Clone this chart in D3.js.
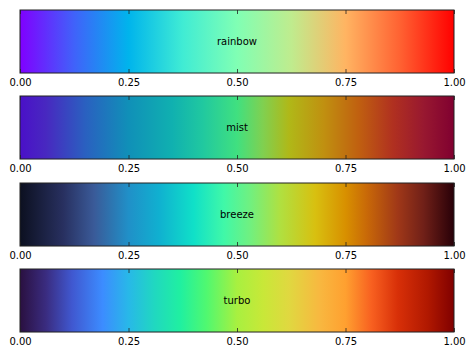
<!DOCTYPE html>
<html>
<head>
<meta charset="utf-8">
<script src="https://cdn.jsdelivr.net/npm/d3@7"></script>
<style>
  body { margin: 0; background: #fff; }
  text { font-family: "DejaVu Sans", sans-serif; }
</style>
</head>
<body>
<svg width="474" height="355"></svg>
<script>
// colormap names, top to bottom
var cmap_names = ["rainbow", "mist", "breeze", "turbo"];

// colour stops: [offset, colour]
var rainbow_stops = [[0, "#8000ff"], [0.125, "#4062fa"], [0.25, "#00b4ec"], [0.375, "#40ecd4"],
  [0.5, "#80ffb4"], [0.625, "#bfec8e"], [0.75, "#ffb462"], [0.875, "#ff6232"], [1, "#ff0000"]];
var mist_stops = [[0, "#4a10c8"], [0.06, "#4828c0"], [0.15, "#2a60c0"], [0.25, "#1090b8"],
  [0.35, "#10b0b0"], [0.42, "#20c8a0"], [0.5, "#40e080"], [0.56, "#80d050"], [0.62, "#b0b818"],
  [0.7, "#c09010"], [0.78, "#c06010"], [0.86, "#b03020"], [0.93, "#981830"], [1, "#800030"]];
var breeze_stops = [[0, "#0c1020"], [0.1, "#283060"], [0.17, "#3a5a98"], [0.25, "#2090c8"],
  [0.32, "#10b0d0"], [0.4, "#10e0c8"], [0.47, "#40f8a8"], [0.53, "#70f080"], [0.6, "#b0e040"],
  [0.68, "#d8c010"], [0.75, "#d89000"], [0.8, "#c86808"], [0.87, "#a03818"], [0.93, "#702018"], [1, "#280008"]];
var turbo_stops = [[0, "#2a1040"], [0.06, "#3a2c80"], [0.12, "#4058d0"], [0.19, "#3c8cff"],
  [0.25, "#28b8e8"], [0.31, "#20d8c0"], [0.37, "#20f0a0"], [0.43, "#50f870"], [0.5, "#a8f040"],
  [0.56, "#c8e838"], [0.62, "#e0d840"], [0.69, "#f8b840"], [0.75, "#ffa030"], [0.81, "#f86020"],
  [0.87, "#d83008"], [0.94, "#b01800"], [1, "#800000"]];

var all_stops = [rainbow_stops, mist_stops, breeze_stops, turbo_stops];
var tick_vals = [0, 0.25, 0.5, 0.75, 1];

var svg = d3.select("svg");

var left = 20, right = 454;

var x = d3.scaleLinear().domain([0, 1]).range([left, right]);
var row = d3.scaleBand().domain(cmap_names).range([10, 332]).paddingInner(0.27).paddingOuter(0);
var bar_h = row.bandwidth();

var defs = svg.append("defs");

cmap_names.forEach(function (name, i) {
  var grad = defs.append("linearGradient")
      .attr("id", "grad_" + name)
      .attr("x1", "0%").attr("x2", "100%")
      .attr("y1", "0%").attr("y2", "0%");
  grad.selectAll("stop")
      .data(all_stops[i])
      .enter().append("stop")
      .attr("offset", function (d) { return (d[0] * 100) + "%"; })
      .attr("stop-color", function (d) { return d[1]; });

  var top = Math.round(row(name));
  var g = svg.append("g");

  g.append("rect")
      .attr("x", x(0)).attr("y", top)
      .attr("width", x(1) - x(0)).attr("height", bar_h)
      .attr("fill", "url(#grad_" + name + ")");

  // inward ticks, bottom and top
  var bottom_ticks = g.append("g")
      .attr("transform", "translate(0," + (top + bar_h) + ")")
      .call(d3.axisBottom(x).tickValues(tick_vals).tickSize(-4).tickFormat(""));
  var top_ticks = g.append("g")
      .attr("transform", "translate(0," + top + ")")
      .call(d3.axisTop(x).tickValues(tick_vals).tickSize(-4).tickFormat(""));
  [bottom_ticks, top_ticks].forEach(function (a) {
    a.select(".domain").remove();
    a.selectAll("line").attr("stroke", "#222").attr("stroke-width", 0.8);
  });

  // tick labels
  var labels = g.append("g")
      .attr("transform", "translate(0," + (top + bar_h) + ")")
      .call(d3.axisBottom(x).tickValues(tick_vals).tickSize(0).tickPadding(5.5).tickFormat(d3.format(".2f")));
  labels.select(".domain").remove();
  labels.selectAll("text")
      .attr("font-family", "DejaVu Sans, sans-serif")
      .attr("font-size", "10px")
      .attr("fill", "#000");

  g.append("rect")
      .attr("x", x(0)).attr("y", top)
      .attr("width", x(1) - x(0)).attr("height", bar_h)
      .attr("fill", "none")
      .attr("stroke", "#222")
      .attr("stroke-width", 1);

  g.append("text")
      .attr("x", x(0.5))
      .attr("y", top + bar_h / 2)
      .attr("text-anchor", "middle")
      .attr("dominant-baseline", "central")
      .style("font-size", "10px")
      .text(name);
});
</script>
</body>
</html>
